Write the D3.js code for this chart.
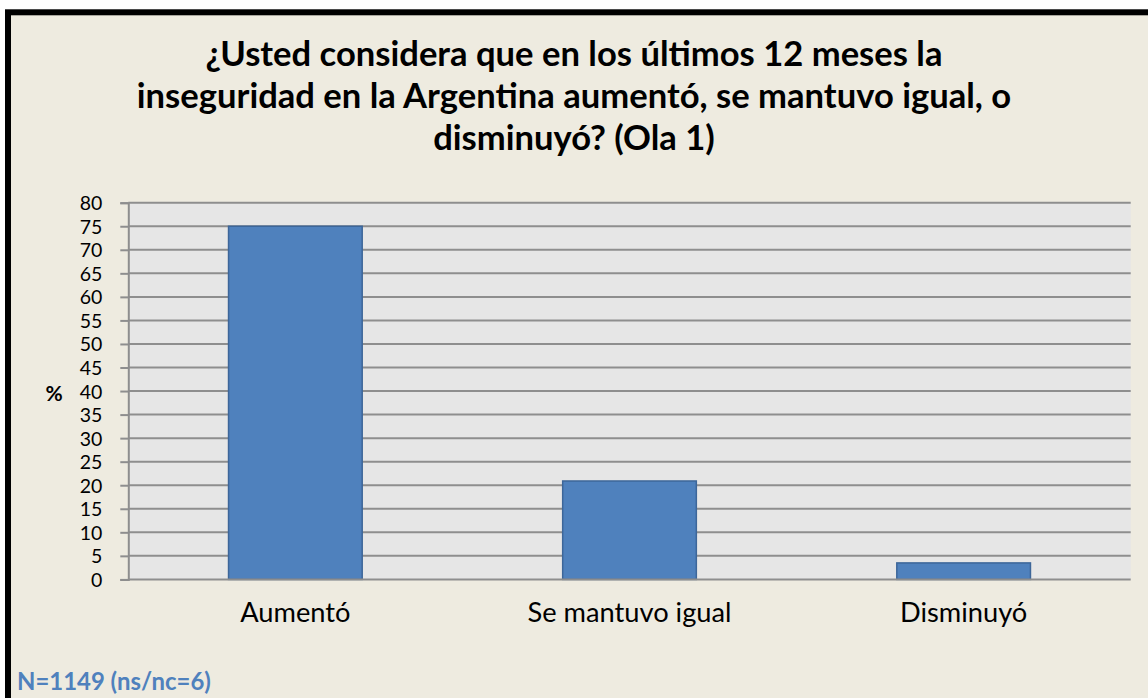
<!DOCTYPE html>
<html>
<head>
<meta charset="utf-8">
<script src="https://cdn.jsdelivr.net/npm/d3@7"></script>
<style>
  html, body { margin: 0; padding: 0; background: #ffffff; }
  svg { display: block; }
  text { font-family: Lato, "Open Sans", sans-serif; }
</style>
</head>
<body>
<div id="stage"></div>
<script>

// data
var categories = ["Aumentó", "Se mantuvo igual", "Disminuyó"];
var values = [75.0, 20.9, 3.5];
var yTicks = [0, 5, 10, 15, 20, 25, 30, 35, 40, 45, 50, 55, 60, 65, 70, 75, 80];
var titleLines = [
  "¿Usted considera que en los últimos 12 meses la",
  "inseguridad en la Argentina aumentó, se mantuvo igual, o",
  "disminuyó? (Ola 1)"
];
var yLabel = "%";
var note = "N=1149 (ns/nc=6)";

var W = 1148, H = 698;
var plot = {left: 128.3, right: 1130.7, top: 202.7, bottom: 579.4};

var svg = d3.select("#stage")
  .append("svg")
  .attr("width", W)
  .attr("height", H);

// frame (runs off the right and bottom edge like the picture)
svg.append("rect")
  .attr("x", 8).attr("y", 12.3)
  .attr("width", W + 40).attr("height", H + 40)
  .attr("fill", "#eeebe0")
  .attr("stroke", "#000")
  .attr("stroke-width", 6);

// shrink/grow a text so it takes the width we see in the picture
function fitWidth(sel, target) {
  var size = parseFloat(sel.attr("font-size"));
  var w = sel.node().getComputedTextLength();
  sel.attr("font-size", size * target / w);
  return size * target / w;
}

// title
var title = svg.append("g");
var tl = title.selectAll("text")
  .data(titleLines)
  .enter().append("text")
  .attr("x", 574)
  .attr("y", function(d, i) { return 66 + i * 42; })
  .attr("text-anchor", "middle")
  .attr("font-weight", "bold")
  .attr("font-size", 30)
  .attr("fill", "#000")
  .text(function(d) { return d; });
var ts = fitWidth(d3.select(tl.nodes()[1]), 875);
tl.attr("font-size", ts);

var x = d3.scaleBand()
  .domain(categories)
  .range([plot.left, plot.right])
  .paddingInner(0.6)
  .paddingOuter(0.3);

var y = d3.scaleLinear()
  .domain([0, 80])
  .range([plot.bottom, plot.top]);

// plot area
svg.append("rect")
  .attr("x", plot.left).attr("y", plot.top)
  .attr("width", plot.right - plot.left)
  .attr("height", plot.bottom - plot.top)
  .attr("fill", "#e6e6e6");

// gridlines
svg.append("g")
  .selectAll("line")
  .data(yTicks.filter(function(t) { return t > 0; }))
  .enter().append("line")
  .attr("x1", plot.left).attr("x2", plot.right)
  .attr("y1", function(d) { return y(d); })
  .attr("y2", function(d) { return y(d); })
  .attr("stroke", "#8e8e8e")
  .attr("stroke-width", 2);

// bars
svg.append("g")
  .selectAll("rect")
  .data(values)
  .enter().append("rect")
  .attr("x", function(d, i) { return x(categories[i]); })
  .attr("y", function(d) { return y(d); })
  .attr("width", x.bandwidth())
  .attr("height", function(d) { return y(0) - y(d); })
  .attr("fill", "#4f81bd")
  .attr("stroke", "#3d6699")
  .attr("stroke-width", 1.5);

// y axis (labels kept small enough that they do not run into each other)
var tickSize = 19.5;
var yAxis = svg.append("g")
  .attr("transform", "translate(" + plot.left + ",0)")
  .call(d3.axisLeft(y).tickValues(yTicks).tickSize(8).tickPadding(18));
yAxis.select(".domain").attr("stroke", "#8e8e8e").attr("stroke-width", 2);
yAxis.selectAll(".tick line").attr("stroke", "#8e8e8e").attr("stroke-width", 2);
yAxis.selectAll(".tick text")
  .attr("fill", "#000")
  .attr("font-family", "Lato, 'Open Sans', sans-serif")
  .attr("font-size", tickSize)
  .attr("dy", "0.36em");

// x axis line at 0
svg.append("line")
  .attr("x1", plot.left).attr("x2", plot.right)
  .attr("y1", y(0)).attr("y2", y(0))
  .attr("stroke", "#8e8e8e")
  .attr("stroke-width", 2);

// category labels
var cl = svg.append("g")
  .selectAll("text")
  .data(categories)
  .enter().append("text")
  .attr("x", function(d) { return x(d) + x.bandwidth() / 2; })
  .attr("y", 622)
  .attr("text-anchor", "middle")
  .attr("font-size", 22)
  .attr("fill", "#000")
  .text(function(d) { return d; });
var cs = fitWidth(d3.select(cl.nodes()[1]), 204);
cl.attr("font-size", cs);

// y label
svg.append("text")
  .attr("x", 54)
  .attr("y", 393)
  .attr("dy", "0.36em")
  .attr("text-anchor", "middle")
  .attr("font-weight", "bold")
  .attr("font-size", 21)
  .attr("fill", "#000")
  .text(yLabel);

// sample note
var nt = svg.append("text")
  .attr("x", 17)
  .attr("y", 690)
  .attr("font-weight", "bold")
  .attr("font-size", 20)
  .attr("fill", "#4f81bd")
  .text(note);
fitWidth(nt, 194);

</script>
</body>
</html>
